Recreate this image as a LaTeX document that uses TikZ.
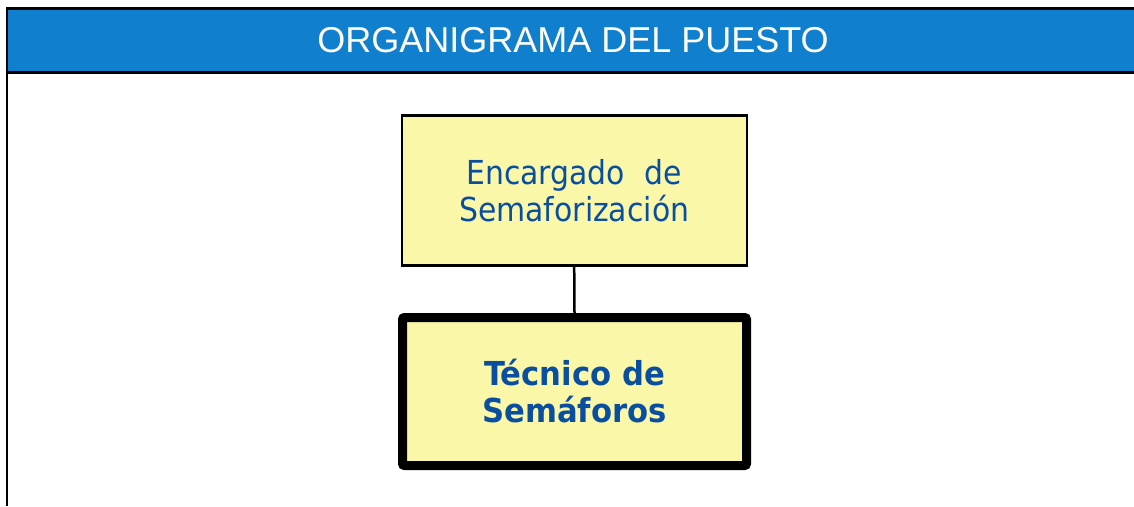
\documentclass[tikz,border=0pt]{standalone}
\usepackage{fontspec}
\newfontfamily\hdrfont{Liberation Sans}
\newfontfamily\boxfont[FakeStretch=0.905]{DejaVu Sans}
\newfontfamily\boxboldfont[FakeStretch=0.93]{DejaVu Sans Bold}
\definecolor{hdrblue}{RGB}{16,127,205}
\definecolor{txtblue}{RGB}{10,78,160}
\definecolor{boxyellow}{RGB}{250,248,168}
\tikzset{
  header/.style={fill=hdrblue},
  frameline/.style={draw=black,line width=2.5pt},
  titletext/.style={text=white,font=\hdrfont\fontsize{36}{40}\selectfont,inner sep=0pt},
  bossbox/.style={draw=black,fill=boxyellow,line width=2.3pt,minimum width=345pt,minimum height=150pt,inner sep=0pt,align=center,text=txtblue,font=\boxfont\fontsize{33}{37}\selectfont},
  rolebox/.style={draw=black,fill=boxyellow,line width=9pt,rounded corners=2pt,minimum width=344pt,minimum height=148pt,inner sep=0pt,align=center,text=txtblue,font=\boxboldfont\fontsize{33}{37}\selectfont},
  link/.style={draw=black,line width=2.5pt}
}
\begin{document}
\begin{tikzpicture}[x=1pt,y=-1pt]
\useasboundingbox (0,0) rectangle (1134,506);
\fill[header] (7,8.5) rectangle (1134,72);
\draw[frameline] (1134,8.5) -- (7,8.5) -- (7,506);
\draw[black,line width=3pt] (7,72) -- (1134,72);
\node[titletext] (title) at (573,40) {ORGANIGRAMA DEL PUESTO};
\node[bossbox] (boss) at (574.2,190.5) {Encargado\hspace{10pt} de\\Semaforización};
\node[rolebox] (role) at (574.5,391.5) {Técnico de\\Semáforos};
\draw[link] (boss.south) -- (role.north);
\end{tikzpicture}
\end{document}
